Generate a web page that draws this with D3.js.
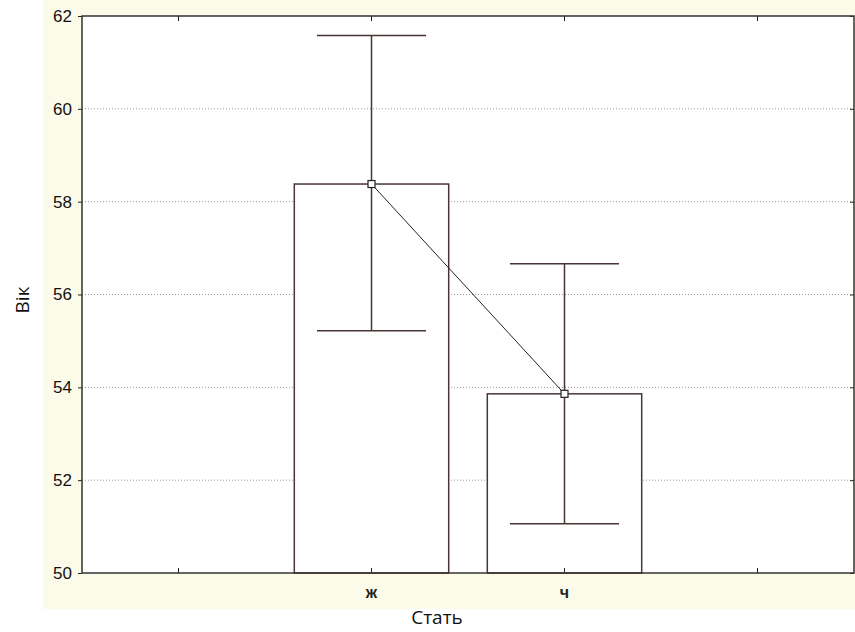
<!DOCTYPE html>
<html><head><meta charset="utf-8">
<script src="https://cdn.jsdelivr.net/npm/d3@7"></script>
<style>body{margin:0;background:#fff}</style>
</head><body>
<svg id="c" width="855" height="632"></svg>
<script>
const slots = ["", "ж", "ч", ""];
const categories = ["ж", "ч"];
const means = [58.38, 53.86];
const upper = [61.58, 56.66];
const lower = [55.22, 51.06];
const yTicks = [50, 52, 54, 56, 58, 60, 62];

const svg = d3.select("#c");
const m = {l: 82, r: 854, t: 16, b: 573};
svg.append("rect").attr("x", 43).attr("y", 0).attr("width", 812).attr("height", 609).attr("fill", "#fcfbea");
svg.append("rect").attr("x", m.l).attr("y", m.t).attr("width", m.r - m.l).attr("height", m.b - m.t).attr("fill", "#fff");

const x = d3.scaleBand().domain(d3.range(slots.length)).range([m.l, m.r]);
const y = d3.scaleLinear().domain([50, 62]).range([m.b, m.t]);
const cx = i => x(slots.indexOf(categories[i])) + x.bandwidth() / 2;
const barW = x.bandwidth() * 0.8, capW = x.bandwidth() * 0.565;

// grid
svg.append("g").selectAll("line").data(yTicks.filter(v => v > 50 && v < 62)).join("line")
  .attr("x1", m.l).attr("x2", m.r).attr("y1", d => y(d)).attr("y2", d => y(d))
  .attr("stroke", "#999").attr("stroke-width", 1).attr("stroke-dasharray", "1,2");

const col = "#4a3535";
// bars
svg.append("g").selectAll("rect").data(means).join("rect")
  .attr("x", (d, i) => cx(i) - barW / 2).attr("y", d => y(d))
  .attr("width", barW).attr("height", d => y(50) - y(d))
  .attr("fill", "#fff").attr("stroke", col).attr("stroke-width", 1.5);

// error bars
const eb = svg.append("g").attr("stroke", col).attr("stroke-width", 1.5);
means.forEach((d, i) => {
  eb.append("line").attr("x1", cx(i)).attr("x2", cx(i)).attr("y1", y(upper[i])).attr("y2", y(lower[i]));
  eb.append("line").attr("x1", cx(i) - capW / 2).attr("x2", cx(i) + capW / 2).attr("y1", y(upper[i])).attr("y2", y(upper[i]));
  eb.append("line").attr("x1", cx(i) - capW / 2).attr("x2", cx(i) + capW / 2).attr("y1", y(lower[i])).attr("y2", y(lower[i]));
});

// mean line
svg.append("path").datum(means)
  .attr("d", d3.line().x((d, i) => cx(i)).y(d => y(d)))
  .attr("fill", "none").attr("stroke", "#222").attr("stroke-width", 1);
svg.append("g").selectAll("rect").data(means).join("rect")
  .attr("x", (d, i) => cx(i) - 3.5).attr("y", d => y(d) - 3.5)
  .attr("width", 7).attr("height", 7).attr("fill", "#fff").attr("stroke", "#222").attr("stroke-width", 1.2);

// axes
const font = "Liberation Sans, Arial, sans-serif";
const yl = svg.append("g").attr("transform", `translate(${m.l},0)`).call(d3.axisLeft(y).tickValues(yTicks).tickSize(4).tickPadding(6));
yl.selectAll("text").attr("font-size", 17).attr("font-family", font).attr("fill", "#111");
const yr = svg.append("g").attr("transform", `translate(${m.r},0)`).call(d3.axisLeft(y).tickValues(yTicks).tickSize(4).tickFormat(""));
const xb = svg.append("g").attr("transform", `translate(0,${m.b})`).call(d3.axisTop(x).tickSize(5).tickFormat(""));
const xt = svg.append("g").attr("transform", `translate(0,${m.t})`).call(d3.axisBottom(x).tickSize(5).tickFormat(""));
[yl, yr, xb, xt].forEach(g => { g.select(".domain").remove(); g.selectAll("line").attr("stroke", "#222"); });
// category labels
svg.append("g").selectAll("text").data(slots).join("text")
  .attr("x", (d, i) => x(i) + x.bandwidth() / 2).attr("y", 598)
  .attr("text-anchor", "middle").attr("font-family", font).attr("font-size", 16).attr("font-weight", "bold").attr("fill", "#222")
  .text(d => d);
// frame
svg.append("rect").attr("x", m.l).attr("y", m.t).attr("width", m.r - m.l).attr("height", m.b - m.t)
  .attr("fill", "none").attr("stroke", "#333").attr("stroke-width", 1.5);

svg.append("text").attr("x", 437).attr("y", 624).attr("text-anchor", "middle")
  .attr("font-family", "Open Sans, sans-serif").attr("font-size", 19).attr("fill", "#111").text("Стать");
svg.append("text").attr("transform", "translate(29,300) rotate(-90)").attr("text-anchor", "middle")
  .attr("font-family", "Open Sans, sans-serif").attr("font-size", 19).attr("fill", "#111").text("Вік");
</script>
</body></html>
